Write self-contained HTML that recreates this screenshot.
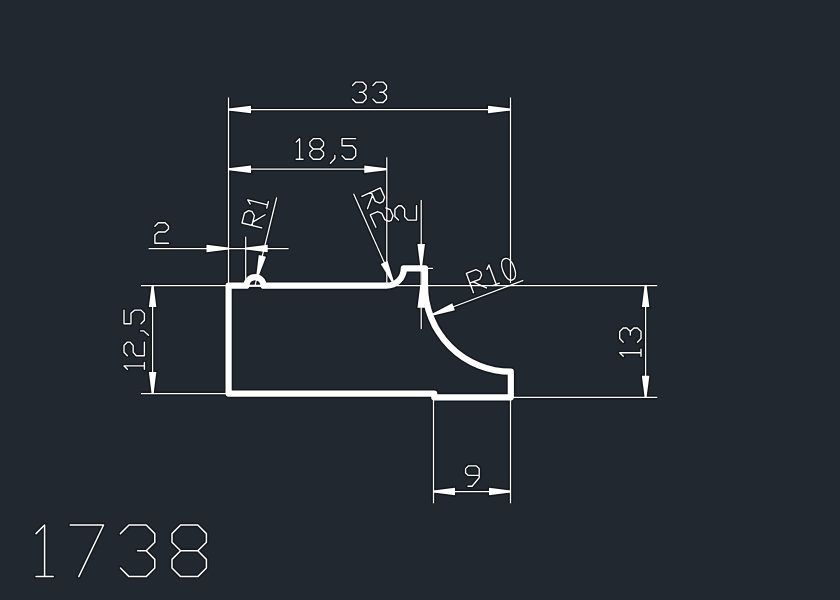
<!DOCTYPE html>
<html><head><meta charset="utf-8"><title>1738</title>
<style>html,body{margin:0;padding:0;font-family:"Liberation Sans",sans-serif;background:#212830;width:840px;height:600px;overflow:hidden}svg{display:block}</style>
</head><body>
<svg width="840" height="600" viewBox="0 0 840 600">
<rect width="840" height="600" fill="#212830"/>
<g opacity="0.45" stroke="#000" fill="none">
<g stroke-linecap="butt"><line x1="228.5" y1="97.5" x2="228.5" y2="283" stroke-width="4.250"/><line x1="510.5" y1="97.5" x2="510.5" y2="283" stroke-width="4.250"/><line x1="228.5" y1="109.5" x2="510.5" y2="109.5" stroke-width="4.250"/><line x1="386.8" y1="157.2" x2="386.8" y2="283" stroke-width="4.250"/><line x1="228.5" y1="169.2" x2="386.8" y2="169.2" stroke-width="4.250"/><line x1="245.7" y1="236.8" x2="245.7" y2="284" stroke-width="4.250"/><line x1="148.6" y1="248.5" x2="288.6" y2="248.5" stroke-width="4.250"/><line x1="276.7" y1="197.5" x2="255.0" y2="285.7" stroke-width="4.250"/><line x1="353.6" y1="193.8" x2="393.2" y2="282.6" stroke-width="4.250"/><line x1="421.2" y1="200" x2="421.2" y2="329" stroke-width="4.250"/><line x1="427" y1="268.4" x2="433" y2="268.4" stroke-width="4.250"/><line x1="523.3" y1="280.4" x2="433.0" y2="314.5" stroke-width="4.250"/><line x1="392" y1="285.6" x2="657.2" y2="285.6" stroke-width="4.250"/><line x1="512" y1="397.3" x2="657.2" y2="397.3" stroke-width="4.250"/><line x1="645.6" y1="285.6" x2="645.6" y2="397.3" stroke-width="4.250"/><line x1="141" y1="285.6" x2="228" y2="285.6" stroke-width="4.250"/><line x1="141" y1="393.6" x2="228" y2="393.6" stroke-width="4.250"/><line x1="152.6" y1="285.6" x2="152.6" y2="393.6" stroke-width="4.250"/><line x1="433.5" y1="399" x2="433.5" y2="503.3" stroke-width="4.250"/><line x1="510.5" y1="399" x2="510.5" y2="503.3" stroke-width="4.250"/><line x1="433.5" y1="491.5" x2="510.5" y2="491.5" stroke-width="4.250"/><line x1="249.0" y1="285.8" x2="261.0" y2="285.8" stroke-width="5.200"/></g>
<g fill="#000" stroke-width="3.0" stroke-linejoin="round"><polygon points="228.50,108.50 251.00,105.75 251.00,113.25 228.50,110.50"/><polygon points="510.50,110.50 488.00,113.25 488.00,105.75 510.50,108.50"/><polygon points="228.50,168.20 251.00,165.45 251.00,172.95 228.50,170.20"/><polygon points="386.80,170.20 364.30,172.95 364.30,165.45 386.80,168.20"/><polygon points="228.50,249.50 206.50,252.25 206.50,244.75 228.50,247.50"/><polygon points="245.70,247.50 267.70,244.75 267.70,252.25 245.70,249.50"/><polygon points="256.13,276.92 258.72,254.90 266.00,256.69 258.07,277.39"/><polygon points="392.29,283.01 380.73,264.09 387.57,261.01 394.11,282.19"/><polygon points="420.20,266.00 417.45,244.00 424.95,244.00 422.20,266.00"/><polygon points="422.20,285.80 424.95,307.80 417.45,307.80 420.20,285.80"/><polygon points="432.65,313.56 452.26,303.22 454.91,310.24 433.35,315.44"/><polygon points="646.60,285.60 649.35,307.10 641.85,307.10 644.60,285.60"/><polygon points="644.60,397.30 641.85,375.80 649.35,375.80 646.60,397.30"/><polygon points="153.60,285.60 156.35,307.10 148.85,307.10 151.60,285.60"/><polygon points="151.60,393.60 148.85,372.10 156.35,372.10 153.60,393.60"/><polygon points="433.50,490.50 455.00,487.75 455.00,495.25 433.50,492.50"/><polygon points="510.50,492.50 489.00,495.25 489.00,487.75 510.50,490.50"/></g>
<g stroke-width="9.2" stroke-linejoin="round"><path d="M263.55,285.7 L386.5,285.7 A17.3,17.3 0 0 0 403.80,268.4 L425.0,268.4 L425.0,285.7 A86.0,86.0 0 0 0 510.8,371.70 L510.8,397.3 L434.2,397.3 L434.2,393.6 L228.6,393.6 L228.6,285.7 L246.45,285.7 A8.55,8.55 0 0 1 263.55,285.7 Z"/></g>
<g stroke-linecap="round" stroke-linejoin="round"><g transform="translate(352.5,82.1) rotate(0.0) scale(3.4)" stroke-width="1.279"><path transform="translate(0.000,0)" d="M0,1 L1,0 L3,0 L4,1 L4,2 L3,3 L2,3 M3,3 L4,4 L4,5 L3,6 L1,6 L0,5"/><path transform="translate(6.000,0)" d="M0,1 L1,0 L3,0 L4,1 L4,2 L3,3 L2,3 M3,3 L4,4 L4,5 L3,6 L1,6 L0,5"/></g><g transform="translate(296.2,138.7) rotate(0) scale(3.42)" stroke-width="1.272"><path transform="translate(0.000,0)" d="M0,1 L1,0 L1,6 M0,6 L2,6"/><path transform="translate(4.000,0)" d="M1,0 L3,0 L4,1 L4,2 L3,3 L1,3 L0,2 L0,1 Z M1,3 L0,4 L0,5 L1,6 L3,6 L4,5 L4,4 L3,3"/><path transform="translate(10.000,0)" d="M1.3,4.9 L1.3,5.8 L0,7.2"/><path transform="translate(13.400,0)" d="M4,0 L0,0 L0,2.05 L3.05,2.05 L4,3.1 L4,5 L3,6 L1,6 L0,5"/></g><g transform="translate(154.9,222.8) rotate(0.0) scale(3.4)" stroke-width="1.279"><path transform="translate(0.000,0)" d="M0,1 L1,0 L3,0 L4,1 L4,1.8 L3,2.7 L1,2.7 L0,3.6 L0,6 L4,6"/></g><g transform="translate(242.0,223.0) rotate(-76) scale(3.4)" stroke-width="1.279"><path transform="translate(0.000,0)" d="M0,6 L0,0 L3,0 L4,1 L4,2 L3,3 L0,3 M1,3 L4,6"/><path transform="translate(6.000,0)" d="M0,1 L1,0 L1,6 M0,6 L2,6"/></g><g transform="translate(380.4,187.9) rotate(65.6) scale(3.4)" stroke-width="1.279"><path transform="translate(0.000,0)" d="M0,6 L0,0 L3,0 L4,1 L4,2 L3,3 L0,3 M1,3 L4,6"/><path transform="translate(6.000,0)" d="M0,1 L1,0 L3,0 L4,1 L4,1.8 L3,2.7 L1,2.7 L0,3.6 L0,6 L4,6"/></g><g transform="translate(394.9,220.1) rotate(-90) scale(3.6)" stroke-width="1.208"><path transform="translate(0.000,0)" d="M0,1 L1,0 L3,0 L4,1 L4,1.8 L3,2.7 L1,2.7 L0,3.6 L0,6 L4,6"/></g><g transform="translate(466.3,273.3) rotate(-20.3) scale(3.45)" stroke-width="1.261"><path transform="translate(0.000,0)" d="M0,6 L0,0 L3,0 L4,1 L4,2 L3,3 L0,3 M1,3 L4,6"/><path transform="translate(6.000,0)" d="M0,1 L1,0 L1,6 M0,6 L2,6"/><path transform="translate(10.000,0)" d="M1.9,-0.15 C2.95,-0.15 3.6,1.2 3.6,3.15 C3.6,5.1 2.95,6.45 1.9,6.45 C0.85,6.45 0.2,5.1 0.2,3.15 C0.2,1.2 0.85,-0.15 1.9,-0.15 Z"/></g><g transform="translate(124.0,369.3) rotate(-90) scale(3.4)" stroke-width="1.279"><path transform="translate(0.000,0)" d="M0,1 L1,0 L1,6 M0,6 L2,6"/><path transform="translate(4.000,0)" d="M0,1 L1,0 L3,0 L4,1 L4,1.8 L3,2.7 L1,2.7 L0,3.6 L0,6 L4,6"/><path transform="translate(10.000,0)" d="M1.3,4.9 L1.3,5.8 L0,7.2"/><path transform="translate(13.400,0)" d="M4,0 L0,0 L0,2.05 L3.05,2.05 L4,3.1 L4,5 L3,6 L1,6 L0,5"/></g><g transform="translate(619.7,356.35) rotate(-90) scale(3.55)" stroke-width="1.225"><path transform="translate(0.000,0)" d="M0,1 L1,0 L1,6 M0,6 L2,6"/><path transform="translate(4.000,0)" d="M0,1 L1,0 L3,0 L4,1 L4,2 L3,3 L2,3 M3,3 L4,4 L4,5 L3,6 L1,6 L0,5"/></g><g transform="translate(465.6,465.9) rotate(0.0) scale(3.4)" stroke-width="1.279"><path transform="translate(0.000,0)" d="M4,2.8 L0.8,2.8 L0,2.1 L0,0.8 L0.8,0 L3.2,0 L4,0.8 L4,3.5 L1.9,6 L0.7,6"/></g><g transform="translate(36.0,525.0) rotate(0) scale(8.6)" stroke-width="0.523"><path transform="translate(0.000,0)" d="M0,1 L1,0 L1,6 M0,6 L2,6"/></g><g transform="translate(70.2,525.0) rotate(0) scale(8.6)" stroke-width="0.523"><path transform="translate(0.000,0)" d="M0,0 L3.88,0 L1,6"/></g><g transform="translate(120.4,525.0) rotate(0) scale(8.6)" stroke-width="0.523"><path transform="translate(0.000,0)" d="M0,1 L1,0 L3,0 L4,1 L4,2 L3,3 L2,3 M3,3 L4,4 L4,5 L3,6 L1,6 L0,5"/></g><g transform="translate(172.0,525.0) rotate(0) scale(8.6)" stroke-width="0.523"><path transform="translate(0.000,0)" d="M1,0 L3,0 L4,1 L4,2 L3,3 L1,3 L0,2 L0,1 Z M1,3 L0,4 L0,5 L1,6 L3,6 L4,5 L4,4 L3,3"/></g></g>
</g>
<g stroke="#ffffff" fill="none" stroke-linecap="butt"><line x1="228.5" y1="97.5" x2="228.5" y2="283" stroke-width="1.25"/><line x1="510.5" y1="97.5" x2="510.5" y2="283" stroke-width="1.25"/><line x1="228.5" y1="109.5" x2="510.5" y2="109.5" stroke-width="1.25"/><line x1="386.8" y1="157.2" x2="386.8" y2="283" stroke-width="1.25"/><line x1="228.5" y1="169.2" x2="386.8" y2="169.2" stroke-width="1.25"/><line x1="245.7" y1="236.8" x2="245.7" y2="284" stroke-width="1.25"/><line x1="148.6" y1="248.5" x2="288.6" y2="248.5" stroke-width="1.25"/><line x1="276.7" y1="197.5" x2="255.0" y2="285.7" stroke-width="1.25"/><line x1="353.6" y1="193.8" x2="393.2" y2="282.6" stroke-width="1.25"/><line x1="421.2" y1="200" x2="421.2" y2="329" stroke-width="1.25"/><line x1="427" y1="268.4" x2="433" y2="268.4" stroke-width="1.25"/><line x1="523.3" y1="280.4" x2="433.0" y2="314.5" stroke-width="1.25"/><line x1="392" y1="285.6" x2="657.2" y2="285.6" stroke-width="1.25"/><line x1="512" y1="397.3" x2="657.2" y2="397.3" stroke-width="1.25"/><line x1="645.6" y1="285.6" x2="645.6" y2="397.3" stroke-width="1.25"/><line x1="141" y1="285.6" x2="228" y2="285.6" stroke-width="1.25"/><line x1="141" y1="393.6" x2="228" y2="393.6" stroke-width="1.25"/><line x1="152.6" y1="285.6" x2="152.6" y2="393.6" stroke-width="1.25"/><line x1="433.5" y1="399" x2="433.5" y2="503.3" stroke-width="1.25"/><line x1="510.5" y1="399" x2="510.5" y2="503.3" stroke-width="1.25"/><line x1="433.5" y1="491.5" x2="510.5" y2="491.5" stroke-width="1.25"/><line x1="249.0" y1="285.8" x2="261.0" y2="285.8" stroke-width="2.2"/></g>
<g fill="#ffffff" stroke="none"><polygon points="228.50,108.50 251.00,105.75 251.00,113.25 228.50,110.50"/><polygon points="510.50,110.50 488.00,113.25 488.00,105.75 510.50,108.50"/><polygon points="228.50,168.20 251.00,165.45 251.00,172.95 228.50,170.20"/><polygon points="386.80,170.20 364.30,172.95 364.30,165.45 386.80,168.20"/><polygon points="228.50,249.50 206.50,252.25 206.50,244.75 228.50,247.50"/><polygon points="245.70,247.50 267.70,244.75 267.70,252.25 245.70,249.50"/><polygon points="256.13,276.92 258.72,254.90 266.00,256.69 258.07,277.39"/><polygon points="392.29,283.01 380.73,264.09 387.57,261.01 394.11,282.19"/><polygon points="420.20,266.00 417.45,244.00 424.95,244.00 422.20,266.00"/><polygon points="422.20,285.80 424.95,307.80 417.45,307.80 420.20,285.80"/><polygon points="432.65,313.56 452.26,303.22 454.91,310.24 433.35,315.44"/><polygon points="646.60,285.60 649.35,307.10 641.85,307.10 644.60,285.60"/><polygon points="644.60,397.30 641.85,375.80 649.35,375.80 646.60,397.30"/><polygon points="153.60,285.60 156.35,307.10 148.85,307.10 151.60,285.60"/><polygon points="151.60,393.60 148.85,372.10 156.35,372.10 153.60,393.60"/><polygon points="433.50,490.50 455.00,487.75 455.00,495.25 433.50,492.50"/><polygon points="510.50,492.50 489.00,495.25 489.00,487.75 510.50,490.50"/></g>
<g stroke="#ffffff" fill="none" stroke-width="6.2" stroke-linejoin="round"><path d="M263.55,285.7 L386.5,285.7 A17.3,17.3 0 0 0 403.80,268.4 L425.0,268.4 L425.0,285.7 A86.0,86.0 0 0 0 510.8,371.70 L510.8,397.3 L434.2,397.3 L434.2,393.6 L228.6,393.6 L228.6,285.7 L246.45,285.7 A8.55,8.55 0 0 1 263.55,285.7 Z"/></g>
<g stroke="#ffffff" fill="none" stroke-linecap="round" stroke-linejoin="round"><g transform="translate(352.5,82.1) rotate(0.0) scale(3.4)" stroke-width="0.3971"><path transform="translate(0.000,0)" d="M0,1 L1,0 L3,0 L4,1 L4,2 L3,3 L2,3 M3,3 L4,4 L4,5 L3,6 L1,6 L0,5"/><path transform="translate(6.000,0)" d="M0,1 L1,0 L3,0 L4,1 L4,2 L3,3 L2,3 M3,3 L4,4 L4,5 L3,6 L1,6 L0,5"/></g><g transform="translate(296.2,138.7) rotate(0) scale(3.42)" stroke-width="0.3947"><path transform="translate(0.000,0)" d="M0,1 L1,0 L1,6 M0,6 L2,6"/><path transform="translate(4.000,0)" d="M1,0 L3,0 L4,1 L4,2 L3,3 L1,3 L0,2 L0,1 Z M1,3 L0,4 L0,5 L1,6 L3,6 L4,5 L4,4 L3,3"/><path transform="translate(10.000,0)" d="M1.3,4.9 L1.3,5.8 L0,7.2"/><path transform="translate(13.400,0)" d="M4,0 L0,0 L0,2.05 L3.05,2.05 L4,3.1 L4,5 L3,6 L1,6 L0,5"/></g><g transform="translate(154.9,222.8) rotate(0.0) scale(3.4)" stroke-width="0.3971"><path transform="translate(0.000,0)" d="M0,1 L1,0 L3,0 L4,1 L4,1.8 L3,2.7 L1,2.7 L0,3.6 L0,6 L4,6"/></g><g transform="translate(242.0,223.0) rotate(-76) scale(3.4)" stroke-width="0.3971"><path transform="translate(0.000,0)" d="M0,6 L0,0 L3,0 L4,1 L4,2 L3,3 L0,3 M1,3 L4,6"/><path transform="translate(6.000,0)" d="M0,1 L1,0 L1,6 M0,6 L2,6"/></g><g transform="translate(380.4,187.9) rotate(65.6) scale(3.4)" stroke-width="0.3971"><path transform="translate(0.000,0)" d="M0,6 L0,0 L3,0 L4,1 L4,2 L3,3 L0,3 M1,3 L4,6"/><path transform="translate(6.000,0)" d="M0,1 L1,0 L3,0 L4,1 L4,1.8 L3,2.7 L1,2.7 L0,3.6 L0,6 L4,6"/></g><g transform="translate(394.9,220.1) rotate(-90) scale(3.6)" stroke-width="0.3750"><path transform="translate(0.000,0)" d="M0,1 L1,0 L3,0 L4,1 L4,1.8 L3,2.7 L1,2.7 L0,3.6 L0,6 L4,6"/></g><g transform="translate(466.3,273.3) rotate(-20.3) scale(3.45)" stroke-width="0.3913"><path transform="translate(0.000,0)" d="M0,6 L0,0 L3,0 L4,1 L4,2 L3,3 L0,3 M1,3 L4,6"/><path transform="translate(6.000,0)" d="M0,1 L1,0 L1,6 M0,6 L2,6"/><path transform="translate(10.000,0)" d="M1.9,-0.15 C2.95,-0.15 3.6,1.2 3.6,3.15 C3.6,5.1 2.95,6.45 1.9,6.45 C0.85,6.45 0.2,5.1 0.2,3.15 C0.2,1.2 0.85,-0.15 1.9,-0.15 Z"/></g><g transform="translate(124.0,369.3) rotate(-90) scale(3.4)" stroke-width="0.3971"><path transform="translate(0.000,0)" d="M0,1 L1,0 L1,6 M0,6 L2,6"/><path transform="translate(4.000,0)" d="M0,1 L1,0 L3,0 L4,1 L4,1.8 L3,2.7 L1,2.7 L0,3.6 L0,6 L4,6"/><path transform="translate(10.000,0)" d="M1.3,4.9 L1.3,5.8 L0,7.2"/><path transform="translate(13.400,0)" d="M4,0 L0,0 L0,2.05 L3.05,2.05 L4,3.1 L4,5 L3,6 L1,6 L0,5"/></g><g transform="translate(619.7,356.35) rotate(-90) scale(3.55)" stroke-width="0.3803"><path transform="translate(0.000,0)" d="M0,1 L1,0 L1,6 M0,6 L2,6"/><path transform="translate(4.000,0)" d="M0,1 L1,0 L3,0 L4,1 L4,2 L3,3 L2,3 M3,3 L4,4 L4,5 L3,6 L1,6 L0,5"/></g><g transform="translate(465.6,465.9) rotate(0.0) scale(3.4)" stroke-width="0.3971"><path transform="translate(0.000,0)" d="M4,2.8 L0.8,2.8 L0,2.1 L0,0.8 L0.8,0 L3.2,0 L4,0.8 L4,3.5 L1.9,6 L0.7,6"/></g><g transform="translate(36.0,525.0) rotate(0) scale(8.6)" stroke-width="0.1744"><path transform="translate(0.000,0)" d="M0,1 L1,0 L1,6 M0,6 L2,6"/></g><g transform="translate(70.2,525.0) rotate(0) scale(8.6)" stroke-width="0.1744"><path transform="translate(0.000,0)" d="M0,0 L3.88,0 L1,6"/></g><g transform="translate(120.4,525.0) rotate(0) scale(8.6)" stroke-width="0.1744"><path transform="translate(0.000,0)" d="M0,1 L1,0 L3,0 L4,1 L4,2 L3,3 L2,3 M3,3 L4,4 L4,5 L3,6 L1,6 L0,5"/></g><g transform="translate(172.0,525.0) rotate(0) scale(8.6)" stroke-width="0.1744"><path transform="translate(0.000,0)" d="M1,0 L3,0 L4,1 L4,2 L3,3 L1,3 L0,2 L0,1 Z M1,3 L0,4 L0,5 L1,6 L3,6 L4,5 L4,4 L3,3"/></g></g>
</svg>
</body></html>
